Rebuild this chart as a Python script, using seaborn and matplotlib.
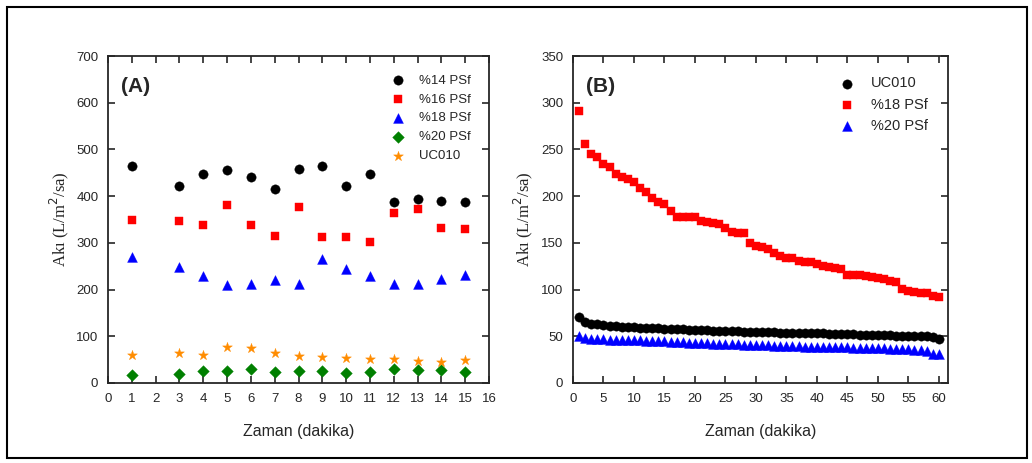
import numpy as np
import pandas as pd
import seaborn as sns
import matplotlib.pyplot as plt
from matplotlib.patches import Rectangle

# panel A data
time_a = [1, 3, 4, 5, 6, 7, 8, 9, 10, 11, 12, 13, 14, 15]
psf14 = [465, 421, 447, 456, 440, 415, 459, 465, 421, 447, 387, 393, 389, 387]
psf16 = [348, 346, 339, 382, 338, 314, 376, 312, 313, 301, 365, 372, 332, 330]
psf18 = [270, 249, 228, 210, 212, 220, 211, 266, 244, 228, 211, 212, 222, 232]
psf20 = [18, 19, 26, 26, 29, 23, 26, 25, 22, 24, 30, 28, 28, 23]
uc010_a = [60, 64, 60, 76, 75, 65, 58, 55, 54, 51, 51, 48, 46, 49]

# panel B data
time_b = list(range(1, 61))
uc010_b = [71, 65, 63.5, 63, 62, 61, 60.5, 60, 59.5, 59.5, 59, 59, 58.5, 58.5, 58,
           58, 57.5, 57.5, 57, 57, 56.5, 56.5, 56, 56, 56, 55.5, 55.5, 55, 55, 55,
           54.5, 54.5, 54.5, 54, 54, 54, 53.5, 53.5, 53, 53, 53, 52.5, 52.5, 52, 52,
           52, 51.5, 51.5, 51.5, 51, 51, 51, 50.5, 50.5, 50.5, 50, 50, 50, 49.5, 47]
psf18_b = [291, 255.5, 245, 242, 234, 231, 224, 220, 218.5, 215, 208.5, 204, 198, 194, 191.5,
           184, 178, 178, 178, 177.5, 173, 172, 171, 170.5, 166, 162, 161, 160.5, 149.5, 147,
           146, 143.5, 139, 136, 134, 133.5, 131, 130, 129, 127, 125, 124, 123, 122.5, 116,
           115.5, 115.5, 115, 113, 112, 111, 109, 108, 101, 99, 97, 96.5, 96, 93.5, 92.5]
psf20_b = [50, 48.5, 47, 47, 47, 46.5, 46.5, 46, 46, 45.5, 45.5, 45, 45, 44.5, 44.5,
           44, 44, 43.5, 43, 42.5, 42.5, 42.5, 42, 42, 42, 41.5, 41.5, 41, 41, 40.5,
           40.5, 40.5, 40, 40, 39.5, 39.5, 39.5, 39, 39, 39, 38.5, 38.5, 38.5, 38, 38,
           37.5, 37.5, 37.5, 37, 37, 37, 36.5, 36.5, 36, 36, 35.5, 35, 34, 31, 31]

sns.set_style("ticks")
plt.rcParams['font.family'] = ['Liberation Sans', 'DejaVu Sans']

fig = plt.figure(figsize=(10.32, 4.63), dpi=100)
ax1 = fig.add_axes([0.1047, 0.1728, 0.3691, 0.7062])
ax2 = fig.add_axes([0.5552, 0.1728, 0.3634, 0.7062])

fig.patches.append(Rectangle((0.007, 0.011), 0.988, 0.974, transform=fig.transFigure,
                             fill=False, edgecolor='black', linewidth=1.5))

series_a = [("%14 PSf", psf14, "black", "o", 45),
            ("%16 PSf", psf16, "red", "s", 40),
            ("%18 PSf", psf18, "blue", "^", 50),
            ("%20 PSf", psf20, "green", "D", 35),
            ("UC010", uc010_a, "darkorange", "*", 55)]
for name, vals, col, mk, sz in series_a:
    df = pd.DataFrame({"t": time_a, "v": vals})
    sns.scatterplot(data=df, x="t", y="v", ax=ax1, color=col, marker=mk, s=sz,
                    edgecolor=col, linewidth=0.3, label=name)

series_b = [("UC010", uc010_b, "black", "o", 45),
            ("%18 PSf", psf18_b, "red", "s", 40),
            ("%20 PSf", psf20_b, "blue", "^", 50)]
for name, vals, col, mk, sz in series_b:
    df = pd.DataFrame({"t": time_b, "v": vals})
    sns.scatterplot(data=df, x="t", y="v", ax=ax2, color=col, marker=mk, s=sz,
                    edgecolor=col, linewidth=0.3, label=name)

ax1.set_xlim(0, 16)
ax1.set_ylim(0, 700)
ax1.set_xticks(range(0, 17))
ax1.set_yticks(range(0, 701, 100))
ax2.set_xlim(0, 61.5)
ax2.set_ylim(0, 350)
ax2.set_xticks(range(0, 61, 5))
ax2.set_yticks(range(0, 351, 50))

for ax, lab, lfs in [(ax1, "(A)", 9.5), (ax2, "(B)", 10.5)]:
    ax.tick_params(direction='in', top=True, right=True, length=5, width=1.2,
                   labelsize=9.5, pad=7)
    for sp in ax.spines.values():
        sp.set_linewidth(1.3)
    ax.set_xlabel("Zaman (dakika)", fontsize=11.5, labelpad=14)
    ax.set_ylabel("Akı (L/m$^2$/sa)", fontsize=12, family=['Liberation Serif', 'DejaVu Serif'])
    ax.text(0.035, 0.89, lab, transform=ax.transAxes, fontsize=15, fontweight='bold')
    ax.legend(loc='upper right', frameon=False, fontsize=lfs, handletextpad=0.6,
              labelspacing=0.5, borderaxespad=1.0)

fig.savefig("out.png", dpi=100)
